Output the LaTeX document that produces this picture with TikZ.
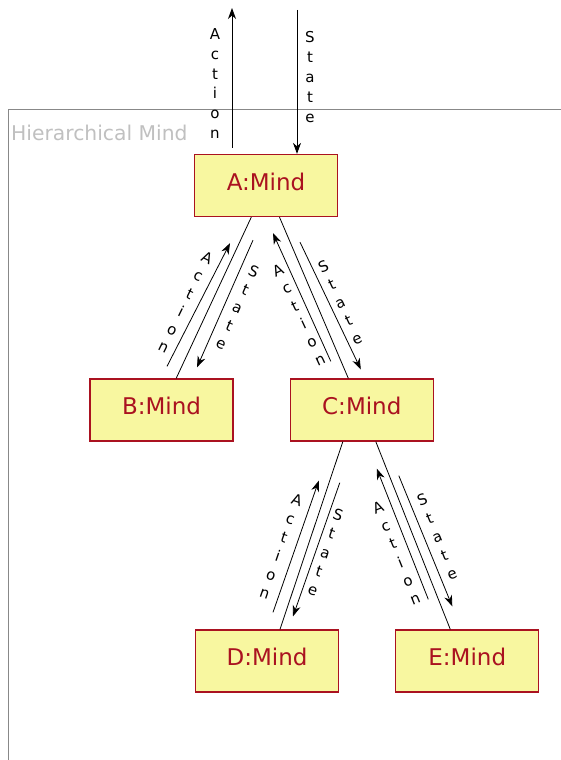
\documentclass[tikz,border=0pt]{standalone}
\usepackage{fontspec}
\setmainfont{DejaVu Sans}
\usetikzlibrary{arrows.meta, positioning}
\definecolor{mdred}{RGB}{170,18,32}
\definecolor{mdfill}{RGB}{248,247,160}
\definecolor{mdframe}{RGB}{136,136,136}
\definecolor{mdtitle}{RGB}{192,192,192}

\begin{document}
\begin{tikzpicture}[
  x=1pt, y=-1pt,
  mind/.style={draw=mdred, fill=mdfill, line width=1.3pt, text=mdred, text depth=8pt,
    minimum width=143pt, minimum height=62pt, font=\fontsize{23}{28}\selectfont},
  link/.style={line width=0.8pt},
  msg/.style={-{Stealth[length=11pt, width=8pt, inset=3.5pt]}, line width=0.8pt},
  lab/.style={font=\fontsize{15}{19.8}\selectfont, align=center, inner sep=0pt}
]
\useasboundingbox (0,0) rectangle (561,760);
\draw[mdframe, line width=0.8pt] (561,109.5) -- (8,109.5) -- (8,760);
\node[anchor=base west, inner sep=0pt, text=mdtitle, font=\fontsize{20.3}{24}\selectfont] (title) at (11,140) {Hierarchical Mind};
\node[mind] (A) at (266,185.5) {A:Mind};
\node[mind] (B) at (161.5,410) {B:Mind};
\node[mind, right=56pt of B] (C) {C:Mind};
\node[mind] (D) at (267,661) {D:Mind};
\node[mind, right=56pt of D] (E) {E:Mind};
\coordinate (up) at (232,8);
\coordinate (down) at (297,10);
\draw[msg] ([xshift=-34pt,yshift=6pt]A.north) -- (up);
\draw[msg] (down) -- ([xshift=31pt]A.north);
\node[lab] (actA) at (215,83.5) {A\\c\\t\\i\\o\\n};
\node[lab] (stA) at (310,77) {S\\t\\a\\t\\e};
\draw[link] (A) -- (B);
\draw[link] (A) -- (C);
\draw[link] ([xshift=-19pt]C.south) -- ([xshift=13pt]D.north);
\draw[link] ([xshift=14pt]C.south) -- ([xshift=-17pt]E.north);
\draw[msg] ([xshift=5.5pt,yshift=12pt]B.north) -- ([xshift=-36pt,yshift=-26pt]A.south);
\draw[msg] ([xshift=-13pt,yshift=-23pt]A.south) -- ([xshift=35.5pt,yshift=11pt]B.north);
\draw[msg] ([xshift=-31pt,yshift=17pt]C.north) -- ([xshift=7pt,yshift=-16pt]A.south);
\draw[msg] ([xshift=34pt,yshift=-25pt]A.south) -- ([xshift=-1pt,yshift=9pt]C.north);
\draw[msg] ([xshift=6pt,yshift=17pt]D.north) -- ([xshift=-43pt,yshift=-39pt]C.south);
\draw[msg] ([xshift=-22pt,yshift=-41pt]C.south) -- ([xshift=26pt,yshift=13pt]D.north);
\draw[msg] ([xshift=-39pt,yshift=30pt]E.north) -- ([xshift=15pt,yshift=-27pt]C.south);
\draw[msg] ([xshift=37pt,yshift=-34pt]C.south) -- ([xshift=-15pt,yshift=23pt]E.north);
\node[lab, rotate=-26] (actB) at (185.5,302.5) {A\\c\\t\\i\\o\\n};
\node[lab, rotate=-24] (stB) at (237.5,307.5) {S\\t\\a\\t\\e};
\node[lab, rotate=25] (actC) at (299,315) {A\\c\\t\\i\\o\\n};
\node[lab, rotate=25] (stC) at (340,302.5) {S\\t\\a\\t\\e};
\node[lab, rotate=-19] (actD) at (281,546.5) {A\\c\\t\\i\\o\\n};
\node[lab, rotate=-18.5] (stD) at (325.5,552.5) {S\\t\\a\\t\\e};
\node[lab, rotate=22] (actE) at (396.5,553) {A\\c\\t\\i\\o\\n};
\node[lab, rotate=22] (stE) at (437,536.5) {S\\t\\a\\t\\e};
\end{tikzpicture}
\end{document}
